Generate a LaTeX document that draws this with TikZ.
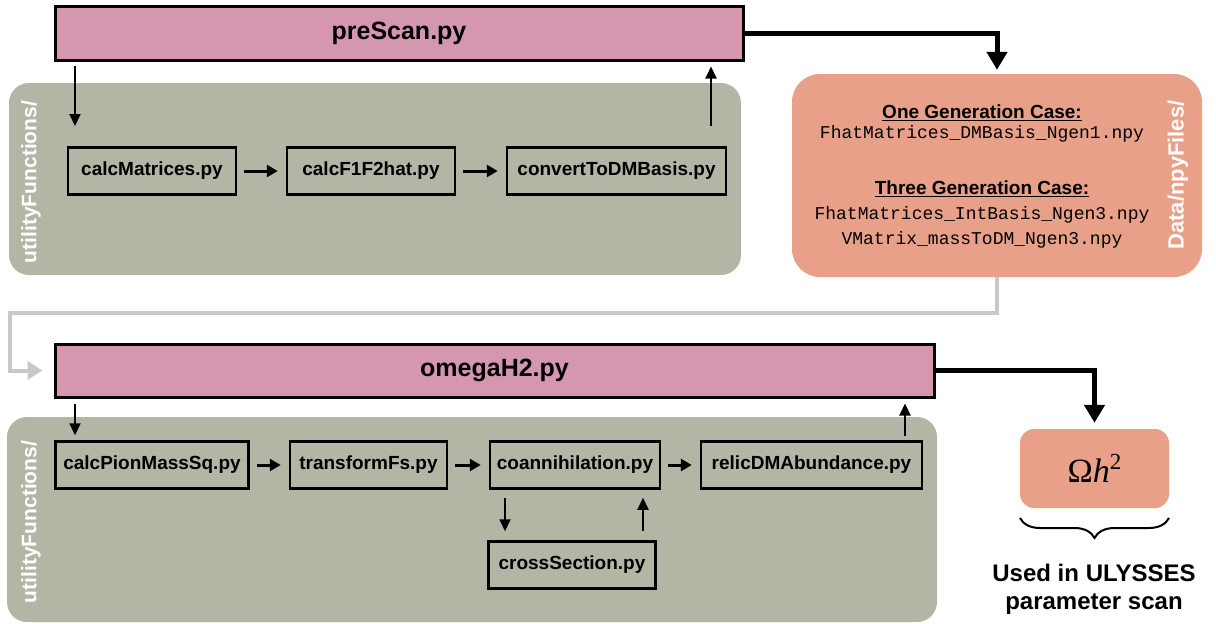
\documentclass[tikz,border=0pt]{standalone}
\usepackage{fontspec}
\setsansfont{Liberation Sans}
\setmonofont{Liberation Mono}
\newfontfamily\symbfont{Liberation Serif}
\usepackage{xcolor}
\usepackage{tikz}
\usetikzlibrary{positioning, arrows.meta, calc, decorations.pathreplacing}
\definecolor{scriptpink}{HTML}{D597B0}
\definecolor{panelgrey}{HTML}{B3B6A5}
\definecolor{datasalmon}{HTML}{E8A088}
\definecolor{linkgrey}{HTML}{C8C8C8}

\tikzset{
  mainscript/.style={draw=black, line width=3pt, fill=scriptpink, inner sep=0pt,
    font=\sffamily\bfseries\fontsize{25}{30}\selectfont},
  helper/.style={draw=black, line width=2.5pt, inner sep=0pt, minimum height=47pt,
    font=\sffamily\bfseries\fontsize{19}{22}\selectfont},
  vflow/.style={line width=2pt, -{Triangle[width=11pt,length=12pt]}},
  hflow/.style={line width=3pt, -{Triangle[width=12pt,length=11pt]},
    shorten <=7pt, shorten >=8pt},
  bigflow/.style={line width=5pt, -{Triangle[width=20pt,length=18pt]}},
  greyflow/.style={draw=linkgrey, line width=4pt, -{Triangle[width=18pt,length=15pt]}},
  paneltag/.style={rotate=90, text=white, font=\sffamily\bfseries\fontsize{21}{24}\selectfont},
  casehead/.style={font=\sffamily\bfseries\fontsize{19}{22}\selectfont},
  npyname/.style={font=\ttfamily\fontsize{18}{20}\selectfont},
}

\begin{document}
\begin{tikzpicture}[x=1pt, y=-1pt]
  \useasboundingbox (0,0) rectangle (1216,624);

  % grey helper panels
  \fill[panelgrey, rounded corners=20pt] (9,83) rectangle (741,275);
  \fill[panelgrey, rounded corners=20pt] (7,417) rectangle (937,622);
  \node[paneltag] (utilTop) at (31,182) {utilityFunctions/};
  \node[paneltag] (utilBottom) at (31,522) {utilityFunctions/};

  % first stage
  \node[mainscript, minimum width=688pt, minimum height=54pt] (preScan) at (399,33) {preScan.py};
  \node[helper, minimum width=168pt] (calcMat) at (152,171) {calcMatrices.py};
  \node[helper, minimum width=168pt] (calcFhat) at (371,171) {calcF1F2hat.py};
  \node[helper, minimum width=219pt] (convertDM) at (616.5,171) {convertToDMBasis.py};
  \draw[hflow] (calcMat) -- (calcFhat);
  \draw[hflow] (calcFhat) -- (convertDM);
  \coordinate (preDown) at (75,126);
  \coordinate (preUp) at (711,126);
  \draw[vflow, shorten <=4pt] (preScan.south -| preDown) -- (preDown);
  \draw[vflow, shorten >=5pt] (preUp) -- (preScan.south -| preUp);

  % stored matrices
  \node[fill=datasalmon, rounded corners=28pt, minimum width=410pt, minimum height=203pt] (npyData) at (997,175.5) {};
  \node[casehead] (oneGen) at (982,113) {\underline{One Generation Case:}};
  \node[npyname] (fileOne) at (982,134) {FhatMatrices\_DMBasis\_Ngen1.npy};
  \node[casehead] (threeGen) at (982,189) {\underline{Three Generation Case:}};
  \node[npyname] (fileTwo) at (982,215) {FhatMatrices\_IntBasis\_Ngen3.npy};
  \node[npyname] (fileThree) at (982,240) {VMatrix\_massToDM\_Ngen3.npy};
  \node[paneltag, font=\sffamily\bfseries\fontsize{22}{24}\selectfont] (dataTag) at (1178,175) {Data/npyFiles/};
  \draw[bigflow, shorten >=4pt] (preScan.east) -| (npyData.north);

  % second stage
  \node[mainscript, minimum width=879pt, minimum height=53pt] (omegaH2) at (494.5,370.5) {omegaH2.py};
  \draw[greyflow, shorten >=11pt] (npyData.south) -- ++(0,36) -| ($(omegaH2.west)+(-44,0)$) -- (omegaH2.west);
  \node[helper, minimum width=193pt] (calcPion) at (152,465) {calcPionMassSq.py};
  \node[helper, minimum width=157pt] (transFs) at (368.5,465) {transformFs.py};
  \node[helper, minimum width=170pt] (coann) at (575,465) {coannihilation.py};
  \node[helper, minimum width=221pt] (relicDM) at (811.5,465) {relicDMAbundance.py};
  \node[helper, minimum width=167pt] (crossSec) at (572,565) {crossSection.py};
  \draw[hflow] (calcPion) -- (transFs);
  \draw[hflow] (transFs) -- (coann);
  \draw[hflow] (coann) -- (relicDM);
  \coordinate (omegaDown) at (75,0);
  \coordinate (omegaUp) at (905,0);
  \coordinate (xsDown) at (505,0);
  \coordinate (xsUp) at (643,0);
  \draw[vflow, shorten <=5pt, shorten >=5pt] (omegaH2.south -| omegaDown) -- (calcPion.north -| omegaDown);
  \draw[vflow, shorten <=4pt, shorten >=5pt] (relicDM.north -| omegaUp) -- (omegaH2.south -| omegaUp);
  \draw[vflow, shorten <=8pt, shorten >=9pt] (coann.south -| xsDown) -- (crossSec.north -| xsDown);
  \draw[vflow, shorten <=9pt, shorten >=8pt] (crossSec.north -| xsUp) -- (coann.south -| xsUp);

  % relic abundance output
  \node[fill=datasalmon, rounded corners=14pt, minimum width=149pt, minimum height=79pt] (omegaBox) at (1094.5,468.5)
    {\symbfont\fontsize{34}{36}\selectfont Ω\textit{h}\raisebox{13pt}{\fontsize{23}{24}\selectfont 2}};
  \draw[bigflow, shorten >=6pt] (omegaH2.east) -| (omegaBox.north);
  \draw[line width=2pt, decorate, decoration={brace, amplitude=20pt}] (1169,518) -- (1020,518);
  \node[align=center, font=\sffamily\bfseries\fontsize{24}{28}\selectfont] (ulysses) at (1094,589) {Used in ULYSSES\\parameter scan};
\end{tikzpicture}
\end{document}
